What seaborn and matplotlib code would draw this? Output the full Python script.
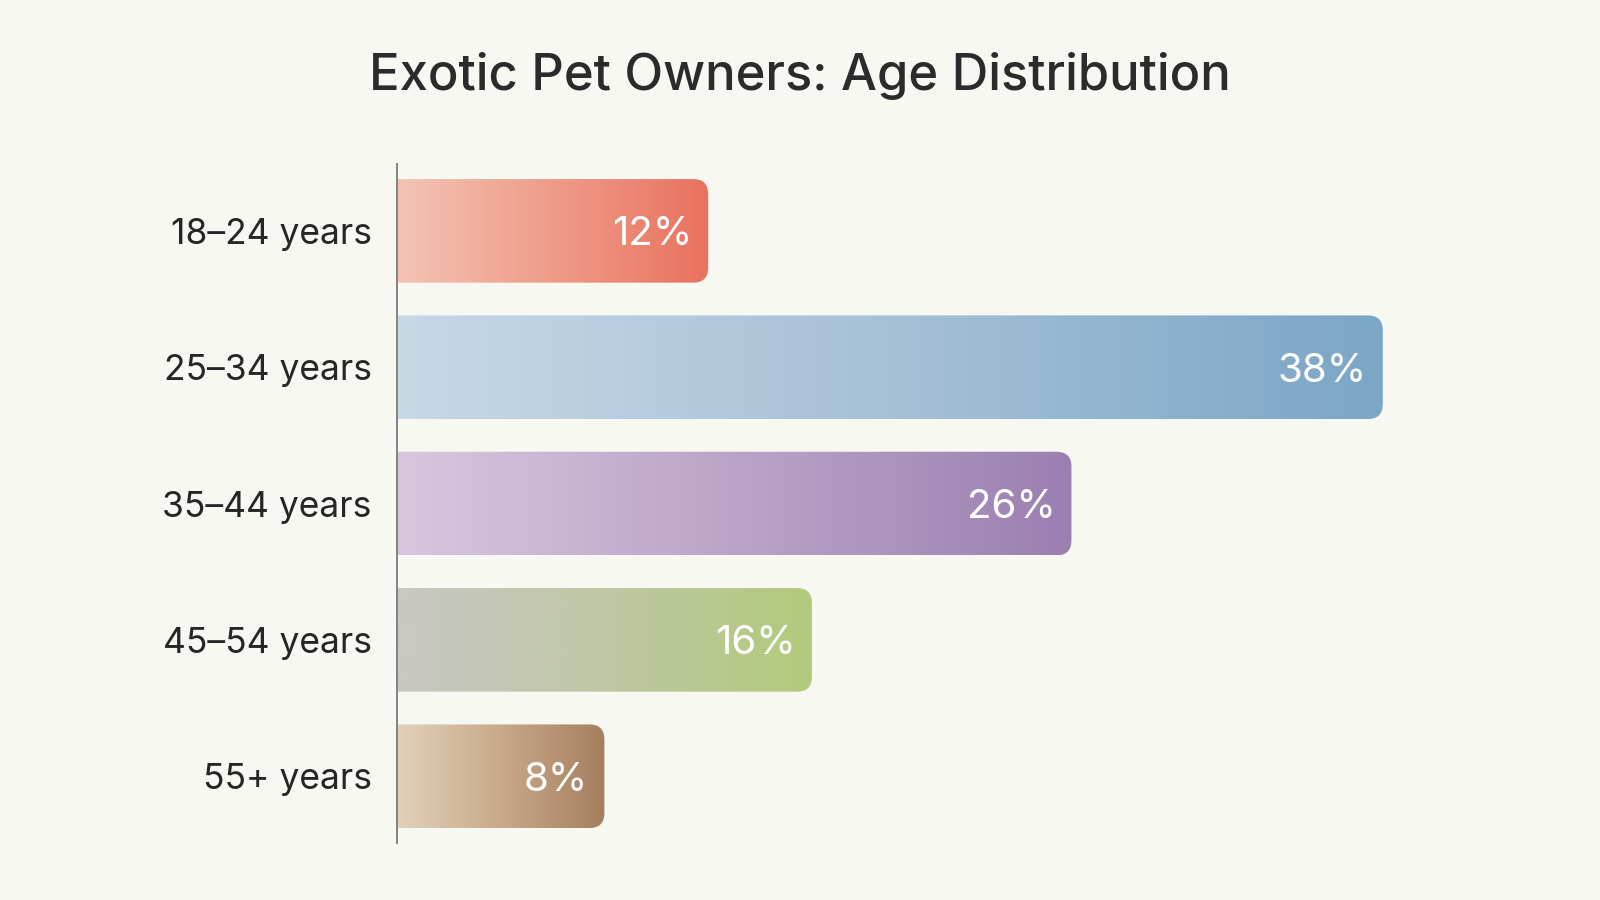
import numpy as np
import matplotlib
matplotlib.use("Agg")
import matplotlib.pyplot as plt
import seaborn as sns
from matplotlib.patches import FancyBboxPatch
from matplotlib.colors import LinearSegmentedColormap

# ---- data ----
categories = ["18–24 years", "25–34 years", "35–44 years", "45–54 years", "55+ years"]
values = [12, 38, 26, 16, 8]
labels = ["12%", "38%", "26%", "16%", "8%"]
gradients = [
    ["#F3C4B5", "#EE9C88", "#E8725E"],
    ["#C7D8E7", "#A6C0D6", "#7BA6C6"],
    ["#D8C6E0", "#BBA3C8", "#9C7FB1"],
    ["#C9C7C3", "#BEC7A4", "#B2CB7B"],
    ["#E3D1BA", "#C8A98A", "#A57F5F"],
]
title = "Exotic Pet Owners: Age Distribution"

BG = "#F8F8F3"
sns.set_theme(style="white")
plt.rcParams["font.family"] = ["Inter", "DejaVu Sans"]

fig = plt.figure(figsize=(16, 9), dpi=100, facecolor=BG)
ax = fig.add_axes([0.248, 0.0633, 0.69, 0.7544])
ax.set_facecolor(BG)

sns.barplot(x=values, y=categories, orient="h", width=0.76, ax=ax,
            color="#cccccc", saturation=1)

xmax = 38 * (0.69 * 1600) / (1383 - 397)
ax.set_xlim(0, xmax)
ax.set_ylim(4.49, -0.49)

# pixel per data unit
ax_w_px = 0.69 * 1600
ax_h_px = 0.7544 * 900
px_x = ax_w_px / xmax
px_y = ax_h_px / (4.49 + 0.49)
r_px = 15
rx = r_px / px_x
aspect = (r_px / px_y) / rx

bars = list(ax.patches)
for i, p in enumerate(bars):
    x0 = p.get_x()
    w = p.get_width()
    y0 = p.get_y()
    h = p.get_height()
    p.set_visible(False)
    clip = FancyBboxPatch((x0 - 3 * rx, y0), w + 3 * rx, h,
                          boxstyle=f"round,pad=0,rounding_size={rx}",
                          mutation_aspect=aspect, transform=ax.transData,
                          facecolor="none", edgecolor="none")
    ax.add_patch(clip)
    cmap = LinearSegmentedColormap.from_list(f"g{i}", gradients[i])
    grad = np.linspace(0, 1, 256).reshape(1, -1)
    im = ax.imshow(grad, extent=[x0, x0 + w, y0 + h, y0], aspect="auto",
                   cmap=cmap, zorder=2, interpolation="bicubic")
    im.set_clip_path(clip)
    ax.text(x0 + w - 16 / px_x, y0 + h / 2, labels[i], ha="right",
            va="center_baseline", color="white", fontsize=29, zorder=3)

ax.set_xlim(0, xmax)
ax.set_ylim(4.49, -0.49)
ax.set_xlabel("")
ax.set_ylabel("")
ax.set_xticks([])
ax.tick_params(axis="y", length=0, pad=18, labelsize=25.5, labelcolor="#262626")
for s in ["top", "right", "bottom"]:
    ax.spines[s].set_visible(False)
ax.spines["left"].set_color("#7a7a7a")
ax.spines["left"].set_linewidth(1.3)
ax.spines["left"].set_zorder(4)

fig.text(0.5, 0.916, title, ha="center", va="center", fontsize=36.5,
         color="#2b2b2b", fontweight="medium")

fig.savefig("out.png", dpi=100, facecolor=BG)
